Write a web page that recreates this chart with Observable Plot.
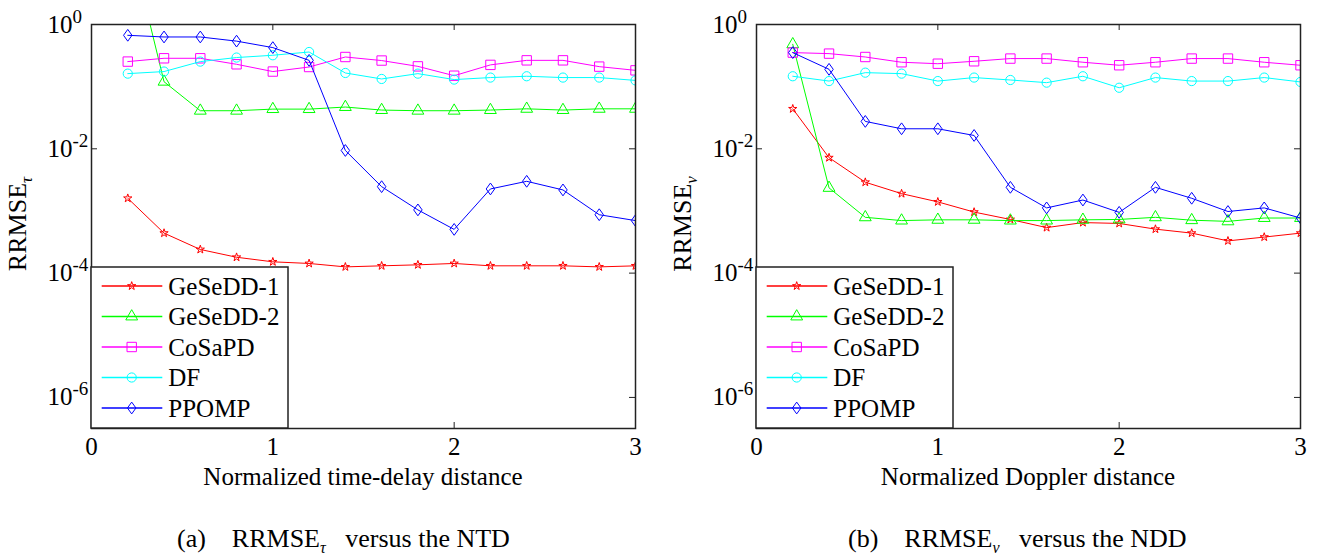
<!DOCTYPE html>
<html><head><meta charset="utf-8">
<script src="https://cdn.jsdelivr.net/npm/d3@7"></script>
<script src="https://cdn.jsdelivr.net/npm/@observablehq/plot@0.6"></script>
<style>
html,body{margin:0;padding:0;background:#fff;}
#wrap{position:relative;width:1341px;height:560px;overflow:hidden;font-family:"Liberation Serif","Times New Roman",serif;color:#000;}
.panel{position:absolute;top:0;}
.cap{position:absolute;top:524px;font-size:26px;line-height:30px;white-space:pre;color:#000;}
.cap sub{font-size:16px;line-height:0;vertical-align:-6px;font-style:italic;}
</style></head><body><div id="wrap"></div>
<script>
// ---------- data ----------
const xValues = [0.2,0.4,0.6,0.8,1.0,1.2,1.4,1.6,1.8,2.0,2.2,2.4,2.6,2.8,3.0];
const seriesNames = ["GeSeDD-1","GeSeDD-2","CoSaPD","DF","PPOMP"];
const xTicks = [0,1,2,3];
const yTicks = [1,1e-2,1e-4,1e-6];

// (a) RRMSE_tau versus normalized time-delay distance
const tauGeSeDD1 = [1.6e-3,4.4e-4,2.4e-4,1.8e-4,1.52e-4,1.43e-4,1.26e-4,1.31e-4,1.36e-4,1.43e-4,1.31e-4,1.31e-4,1.31e-4,1.26e-4,1.31e-4];
const tauGeSeDD2 = [30,0.12,0.041,0.041,0.0435,0.0435,0.047,0.042,0.041,0.041,0.042,0.044,0.042,0.044,0.044];
const tauCoSaPD  = [0.253,0.286,0.286,0.229,0.175,0.207,0.30,0.263,0.212,0.150,0.224,0.265,0.265,0.21,0.183];
const tauDF      = [0.162,0.175,0.253,0.294,0.32,0.361,0.166,0.133,0.162,0.13,0.14,0.147,0.14,0.14,0.126];
const tauPPOMP   = [0.67,0.63,0.63,0.54,0.425,0.265,0.0094,0.00246,0.00104,0.000505,0.00226,0.0030,0.00218,0.00087,0.0007];

// (b) RRMSE_nu versus normalized Doppler distance
const nuGeSeDD1 = [0.044,0.0072,0.0029,0.0019,0.0014,0.00096,0.00073,0.00054,0.00065,0.00063,0.00051,0.00044,0.00033,0.00038,0.00044];
const nuGeSeDD2 = [0.48,0.00235,0.00079,0.0007,0.00072,0.00072,0.0007,0.0007,0.00072,0.00073,0.00079,0.00071,0.00068,0.00077,0.00077];
const nuCoSaPD  = [0.353,0.34,0.30,0.247,0.234,0.256,0.283,0.283,0.247,0.221,0.247,0.283,0.283,0.247,0.221];
const nuDF      = [0.147,0.123,0.168,0.162,0.123,0.14,0.128,0.116,0.147,0.096,0.14,0.123,0.123,0.14,0.119];
const nuPPOMP   = [0.353,0.19,0.0276,0.021,0.021,0.0164,0.0024,0.00112,0.0015,0.00095,0.0024,0.0016,0.00098,0.00112,0.00077];

// ---------- styles ----------
// MATLAB-like diamond: slightly taller than wide
const symDiamond = {
  draw(ctx, size) {
    const h = Math.sqrt(size) * 0.95, w = h * 0.72;
    ctx.moveTo(0, -h); ctx.lineTo(w, 0); ctx.lineTo(0, h); ctx.lineTo(-w, 0); ctx.closePath();
  }
};
const styles = {
  "GeSeDD-1": {color:"#ff0000", symbol:d3.symbolStar, r:2.6},
  "GeSeDD-2": {color:"#00ff00", symbol:d3.symbolTriangle, r:4.4},
  "CoSaPD":   {color:"#ff00ff", symbol:d3.symbolSquare, r:5.3},
  "DF":       {color:"#00ffff", symbol:d3.symbolCircle, r:4.6},
  "PPOMP":    {color:"#0000ff", symbol:symDiamond, r:3.5}
};
const FONT = '"Liberation Serif","Times New Roman",serif';
const H = 500, MT = 24, MB = 72;

function makePanel({series, left, width, marginLeft, marginRight, xLabel, ySub, caption, capSub, capLeft}) {
  const fw = width - marginLeft - marginRight;
  const fh = H - MT - MB;
  const marks = [];
  seriesNames.forEach((name, i) => {
    const rows = xValues.map((x, j) => ({x, y: series[i][j], name}));
    const st = styles[name];
    marks.push(Plot.line(rows, {x:"x", y:"y", stroke:st.color, strokeWidth:1, clip:true}));
    marks.push(Plot.dot(rows, {x:"x", y:"y", stroke:st.color, fill:"none", symbol:st.symbol, r:st.r, strokeWidth:1, clip:true}));
  });
  const inner = xTicks.slice(1, -1);
  marks.push(Plot.ruleX(inner, {x:d=>d, stroke:"#222", strokeWidth:1, insetBottom: fh - 6}));
  marks.push(Plot.ruleX(inner, {x:d=>d, stroke:"#222", strokeWidth:1, insetTop: fh - 6}));
  marks.push(Plot.ruleY(yTicks, {y:d=>d, stroke:"#222", strokeWidth:1, insetRight: fw - 6}));
  marks.push(Plot.ruleY(yTicks, {y:d=>d, stroke:"#222", strokeWidth:1, insetLeft: fw - 6}));
  marks.push(Plot.frame({stroke:"#222", strokeWidth:1.5}));
  marks.push(Plot.axisX(xTicks, {tickSize:0, tickPadding:9, label:null, tickFormat:d=>String(d)}));
  marks.push(Plot.axisY(yTicks, {tickSize:0, tickPadding:19, label:null, tickFormat:d=>"10^" + Math.round(Math.log10(d))}));

  const svg = Plot.plot({
    width, height:H, marginLeft, marginRight, marginTop:MT, marginBottom:MB,
    x:{domain:[0,3]},
    y:{type:"log", domain:[Math.pow(10,-6.5), 1]},
    style:{fontFamily:FONT, fontSize:"25px", background:"transparent", color:"#000", overflow:"visible"},
    marks
  });
  svg.classList.add("panel");
  svg.style.left = left + "px";
  document.getElementById("wrap").appendChild(svg);

  // superscript exponents on the y tick labels
  d3.select(svg).selectAll('g[aria-label="y-axis tick label"] text').each(function() {
    const t = d3.select(this);
    const exp = t.text().split("^")[1];
    t.text("10");
    const w = this.getComputedTextLength();
    t.attr("text-anchor", "start").attr("dx", -w);
    t.append("tspan").attr("dy", -10).attr("font-size", 19).text(exp);
  });

  const s = d3.select(svg);
  // x label
  s.append("text").attr("x", marginLeft + fw/2).attr("y", 485)
    .attr("text-anchor", "middle").attr("font-size", 25).attr("fill", "#000").text(xLabel);
  // y label
  const yl = s.append("text").attr("transform", `translate(${marginLeft - 65},${MT + fh/2 - 2}) rotate(-90)`)
    .attr("text-anchor", "middle").attr("font-size", 26).attr("fill", "#000");
  yl.append("tspan").text("RRMSE");
  yl.append("tspan").attr("dy", 6).attr("font-size", 17).attr("font-style", "italic").text(ySub);

  // legend
  const lg = s.append("g").attr("text-anchor", "start");
  lg.append("rect").attr("x", marginLeft).attr("y", 267).attr("width", 197).attr("height", H - MB - 267)
    .attr("fill", "#fff").attr("stroke", "#222").attr("stroke-width", 1.5);
  seriesNames.forEach((name, i) => {
    const st = styles[name];
    const cy = 286 + i * 30.5;
    lg.append("line").attr("x1", marginLeft + 10.7).attr("x2", marginLeft + 71.3).attr("y1", cy).attr("y2", cy)
      .attr("stroke", st.color).attr("stroke-width", 1.3);
    lg.append("path").attr("transform", `translate(${marginLeft + 40.7},${cy})`)
      .attr("d", d3.symbol(st.symbol, Math.PI * st.r * st.r)())
      .attr("fill", "none").attr("stroke", st.color).attr("stroke-width", 1);
    lg.append("text").attr("x", marginLeft + 77.3).attr("y", cy).attr("dy", "0.34em")
      .attr("text-anchor", "start").attr("font-size", 25).attr("fill", "#000").text(name);
  });

  // caption
  const cap = document.createElement("div");
  cap.className = "cap";
  cap.style.left = capLeft + "px";
  cap.innerHTML = caption[0] + "    RRMSE<sub>" + capSub + "</sub>   " + caption[1];
  document.getElementById("wrap").appendChild(cap);
}

makePanel({
  series:[tauGeSeDD1, tauGeSeDD2, tauCoSaPD, tauDF, tauPPOMP],
  left:0, width:660, marginLeft:91, marginRight:25,
  xLabel:"Normalized time-delay distance", ySub:"τ",
  caption:["(a)", "versus the NTD"], capSub:"τ", capLeft:177
});
makePanel({
  series:[nuGeSeDD1, nuGeSeDD2, nuCoSaPD, nuDF, nuPPOMP],
  left:660, width:681, marginLeft:96, marginRight:41,
  xLabel:"Normalized Doppler distance", ySub:"ν",
  caption:["(b)", "versus the NDD"], capSub:"ν", capLeft:848
});
</script></body></html>
